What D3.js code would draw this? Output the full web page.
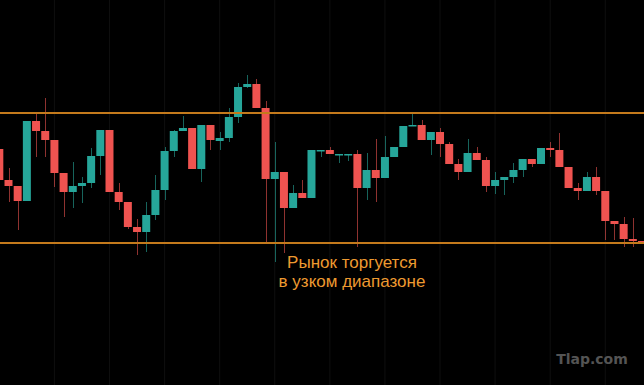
<!DOCTYPE html>
<html>
<head>
<meta charset="utf-8">
<script src="https://cdn.jsdelivr.net/npm/d3@7"></script>
<style>
  html, body { margin: 0; padding: 0; background: #000; }
  svg { display: block; }
</style>
</head>
<body>
<script>
    const CANVAS = { WIDTH: 644, HEIGHT: 385 };

    // OHLC prices, one entry per candle, left to right
    const OPEN  = [1.2851, 1.2820, 1.2814, 1.2799, 1.2879, 1.2869, 1.2860, 1.2827, 1.2808, 1.2814,
                   1.2817, 1.2844, 1.2870, 1.2808, 1.2798, 1.2773, 1.2768, 1.2785, 1.2810, 1.2849,
                   1.2869, 1.2872, 1.2831, 1.2875, 1.2859, 1.2862, 1.2883, 1.2913, 1.2916, 1.2892,
                   1.2821, 1.2828, 1.2792, 1.2807, 1.2802, 1.2849, 1.2850, 1.2845, 1.2845, 1.2846,
                   1.2812, 1.2830, 1.2822, 1.2843, 1.2853, 1.2874, 1.2875, 1.2860, 1.2868, 1.2856,
                   1.2836, 1.2828, 1.2847, 1.2840, 1.2814, 1.2820, 1.2823, 1.2830, 1.2841, 1.2836,
                   1.2852, 1.2850, 1.2833, 1.2812, 1.2809, 1.2823, 1.2809, 1.2779, 1.2776, 1.2761,
                   1.2759];
    const HIGH  = [1.2853, 1.2832, 1.2814, 1.2879, 1.2887, 1.2902, 1.2860, 1.2827, 1.2838, 1.2823,
                   1.2852, 1.2870, 1.2870, 1.2817, 1.2798, 1.2781, 1.2798, 1.2825, 1.2853, 1.2870,
                   1.2884, 1.2872, 1.2875, 1.2875, 1.2868, 1.2892, 1.2917, 1.2925, 1.2921, 1.2899,
                   1.2858, 1.2828, 1.2815, 1.2820, 1.2850, 1.2850, 1.2853, 1.2846, 1.2846, 1.2850,
                   1.2847, 1.2861, 1.2864, 1.2853, 1.2874, 1.2887, 1.2880, 1.2868, 1.2872, 1.2858,
                   1.2841, 1.2861, 1.2853, 1.2843, 1.2828, 1.2823, 1.2837, 1.2841, 1.2841, 1.2852,
                   1.2858, 1.2867, 1.2833, 1.2817, 1.2828, 1.2833, 1.2809, 1.2779, 1.2783, 1.2782,
                   1.2759];
    const LOW   = [1.2820, 1.2798, 1.2770, 1.2799, 1.2843, 1.2843, 1.2813, 1.2783, 1.2792, 1.2797,
                   1.2812, 1.2825, 1.2808, 1.2790, 1.2771, 1.2745, 1.2748, 1.2780, 1.2800, 1.2843,
                   1.2869, 1.2831, 1.2818, 1.2850, 1.2850, 1.2858, 1.2877, 1.2912, 1.2892, 1.2758,
                   1.2738, 1.2747, 1.2792, 1.2802, 1.2802, 1.2843, 1.2846, 1.2837, 1.2839, 1.2753,
                   1.2800, 1.2798, 1.2822, 1.2843, 1.2853, 1.2874, 1.2860, 1.2845, 1.2843, 1.2836,
                   1.2820, 1.2828, 1.2840, 1.2808, 1.2806, 1.2805, 1.2817, 1.2823, 1.2833, 1.2836,
                   1.2843, 1.2833, 1.2812, 1.2800, 1.2809, 1.2805, 1.2760, 1.2760, 1.2753, 1.2753,
                   1.2757];
    const CLOSE = [1.2820, 1.2814, 1.2799, 1.2879, 1.2869, 1.2860, 1.2827, 1.2808, 1.2814, 1.2817,
                   1.2844, 1.2870, 1.2808, 1.2798, 1.2773, 1.2768, 1.2785, 1.2810, 1.2849, 1.2869,
                   1.2872, 1.2831, 1.2875, 1.2860, 1.2862, 1.2883, 1.2913, 1.2916, 1.2892, 1.2821,
                   1.2828, 1.2792, 1.2807, 1.2802, 1.2850, 1.2850, 1.2846, 1.2846, 1.2846, 1.2812,
                   1.2830, 1.2822, 1.2843, 1.2853, 1.2874, 1.2875, 1.2860, 1.2868, 1.2856, 1.2836,
                   1.2828, 1.2847, 1.2840, 1.2814, 1.2820, 1.2823, 1.2830, 1.2841, 1.2836, 1.2852,
                   1.2850, 1.2833, 1.2812, 1.2809, 1.2823, 1.2809, 1.2779, 1.2776, 1.2761, 1.2759,
                   1.2757];

    // range borders
    const LEVELS = [1.2887, 1.2757];
    const LABEL_LINES = ["Рынок торгуется", "в узком диапазоне"];
    const WATERMARK = "Tlap.com";

    const COLORS = { up: "#26a69a", down: "#ef5350", level: "#c47a1c", label: "#ee9a30", grid: "#0f0f0f" };

    var candles = OPEN.map(function(o, i) {
        return { i: i, open: o, high: HIGH[i], low: LOW[i], close: CLOSE[i] };
    });

    var x = d3.scaleBand()
        .domain(d3.range(candles.length))
        .range([-5.27, 646.6])
        .paddingInner(0.13)
        .paddingOuter(0.065);

    var y = d3.scaleLinear()
        .domain([1.2615, 1.3000])
        .range([CANVAS.HEIGHT, 0]);

    var cx = function(i) { return Math.round(x(i) + x.bandwidth() / 2) + 0.5; };

    var canvas = d3.select("body")
        .append("svg")
        .attr("width", CANVAS.WIDTH)
        .attr("height", CANVAS.HEIGHT);

    canvas.append("rect")
        .attr("width", CANVAS.WIDTH)
        .attr("height", CANVAS.HEIGHT)
        .attr("fill", "#000");

    // faint vertical grid, every 6th candle
    var gridAxis = d3.axisBottom(x)
        .tickValues(d3.range(0, candles.length, 6))
        .tickSize(-CANVAS.HEIGHT)
        .tickFormat("");

    var grid = canvas.append("g")
        .attr("transform", "translate(0," + CANVAS.HEIGHT + ")")
        .call(gridAxis);
    grid.select(".domain").remove();
    grid.selectAll(".tick line")
        .attr("stroke", COLORS.grid)
        .attr("stroke-width", 1);

    // wicks
    canvas.append("g")
        .selectAll("line")
        .data(candles)
        .enter()
        .append("line")
        .attr("x1", function(d) { return cx(d.i); })
        .attr("x2", function(d) { return cx(d.i); })
        .attr("y1", function(d) { return y(d.high); })
        .attr("y2", function(d) { return y(d.low); })
        .attr("stroke", function(d) { return d.close >= d.open ? COLORS.up : COLORS.down; })
        .attr("stroke-opacity", 0.6)
        .attr("stroke-width", 1);

    // bodies
    canvas.append("g")
        .selectAll("rect")
        .data(candles)
        .enter()
        .append("rect")
        .attr("x", function(d) { return x(d.i); })
        .attr("width", x.bandwidth())
        .attr("y", function(d) { return y(Math.max(d.open, d.close)); })
        .attr("height", function(d) {
            return Math.max(1.5, Math.abs(y(d.open) - y(d.close)));
        })
        .attr("fill", function(d) { return d.close >= d.open ? COLORS.up : COLORS.down; });

    // range lines
    canvas.append("g")
        .selectAll("line")
        .data(LEVELS)
        .enter()
        .append("line")
        .attr("x1", 0)
        .attr("x2", CANVAS.WIDTH)
        .attr("y1", function(d) { return y(d); })
        .attr("y2", function(d) { return y(d); })
        .attr("stroke", COLORS.level)
        .attr("stroke-width", 2);

    // caption
    canvas.append("g")
        .selectAll("text")
        .data(LABEL_LINES)
        .enter()
        .append("text")
        .attr("x", 352)
        .attr("y", function(d, i) { return 267.5 + i * 19; })
        .attr("text-anchor", "middle")
        .attr("font-family", "Liberation Sans, Arial, sans-serif")
        .attr("font-size", 17)
        .attr("fill", COLORS.label)
        .text(function(d) { return d; });

    canvas.append("text")
        .attr("x", 592)
        .attr("y", 364)
        .attr("text-anchor", "middle")
        .attr("font-family", "DejaVu Sans, sans-serif")
        .attr("font-weight", "bold")
        .attr("font-size", 14)
        .attr("fill", "#545454")
        .text(WATERMARK);
</script>
</body>
</html>
